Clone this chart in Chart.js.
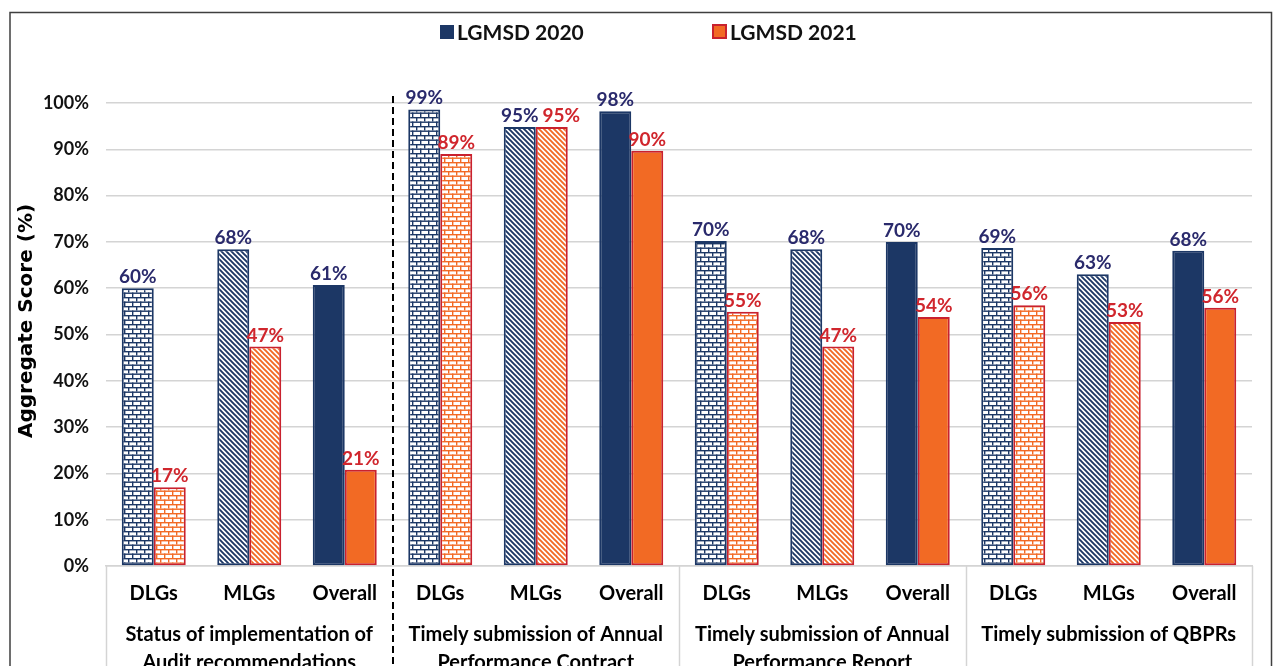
<!DOCTYPE html>
<html><head><meta charset="utf-8">
<script src="https://cdn.jsdelivr.net/npm/chart.js@4.4.1/dist/chart.umd.min.js"></script>
<style>
html,body{margin:0;padding:0;background:#fff;overflow:hidden;width:1273px;height:666px;}
#wrap{position:absolute;left:0;top:0;width:1273px;height:700px;}
</style></head><body>
<div id="wrap"><canvas id="c" width="1273" height="700"></canvas></div>
<script>
const subCategories = ['DLGs','MLGs','Overall','DLGs','MLGs','Overall','DLGs','MLGs','Overall','DLGs','MLGs','Overall'];
const groupLabels = [
  ['Status of implementation of','Audit recommendations'],
  ['Timely submission of Annual','Performance Contract'],
  ['Timely submission of Annual','Performance Report'],
  ['Timely submission of QBPRs']
];
const seriesNames = ['LGMSD 2020','LGMSD 2021'];
const series2020 = [60, 68.4, 60.7, 98.6, 94.8, 98.2, 70.2, 68.4, 70, 68.7, 63, 68.1];
const series2021 = [17, 47.4, 20.8, 89, 94.8, 89.7, 54.9, 47.4, 53.8, 56.3, 52.7, 55.8];
const yTickValues = [0,10,20,30,40,50,60,70,80,90,100];

const NAVY = '#1c3765', ORANGE = '#f26a24', RED = '#c9212e';
const LBL2020 = '#2a2a6c', LBL2021 = '#d0262d';

function brick(color){
  const c=document.createElement('canvas'); c.width=8; c.height=9;
  const g=c.getContext('2d');
  g.fillStyle='#fff'; g.fillRect(0,0,8,9);
  g.fillStyle=color;
  g.fillRect(0,0,8,1.4); g.fillRect(0,4.5,8,1.4);
  g.fillRect(0,0,1.4,4.5); g.fillRect(4,4.5,1.4,4.5);
  return g.createPattern(c,'repeat');
}
function diag(color){
  const s=5;
  const c=document.createElement('canvas'); c.width=s; c.height=s;
  const g=c.getContext('2d');
  g.fillStyle='#fff'; g.fillRect(0,0,s,s);
  g.strokeStyle=color; g.lineWidth=1.9;
  g.beginPath();
  g.moveTo(-1,-1); g.lineTo(s+1,s+1);
  g.moveTo(-1,s-1); g.lineTo(1,s+1);
  g.moveTo(s-1,-1); g.lineTo(s+1,1);
  g.stroke();
  return g.createPattern(c,'repeat');
}
const bg2020 = [], bg2021 = [];
const bN=brick(NAVY), dN=diag(NAVY), bO=brick(ORANGE), dO=diag(ORANGE);
subCategories.forEach(s=>{
  if(s==='DLGs'){bg2020.push(bN);bg2021.push(bO);}
  else if(s==='MLGs'){bg2020.push(dN);bg2021.push(dO);}
  else {bg2020.push(NAVY);bg2021.push(ORANGE);}
});

const deco = {
  id:'deco',
  afterDraw(chart){
    const ctx=chart.ctx, x=chart.scales.x, ca=chart.chartArea;
    ctx.save();
    // frame
    ctx.strokeStyle='#3f3f3f'; ctx.lineWidth=1.5;
    ctx.strokeRect(10,12.5,1261.5,800);
    // legend
    ctx.font='bold 21px Lato'; ctx.textBaseline='middle'; ctx.textAlign='left';
    ctx.fillStyle=NAVY; ctx.fillRect(440,25,14,14);
    ctx.fillStyle='#111'; ctx.fillText(seriesNames[0],457,33);
    ctx.fillStyle=ORANGE; ctx.fillRect(713,25,13,13);
    ctx.strokeStyle=RED; ctx.lineWidth=2; ctx.strokeRect(713,25,13,13);
    ctx.fillStyle='#111'; ctx.fillText(seriesNames[1],730,33);
    // data labels
    ctx.font='bold 19px Lato'; ctx.textAlign='center'; ctx.textBaseline='alphabetic';
    const m0=chart.getDatasetMeta(0), m1=chart.getDatasetMeta(1);
    const d0=chart.data.datasets[0].data, d1=chart.data.datasets[1].data;
    m0.data.forEach((el,i)=>{
      const a=m0.data[i], b=m1.data[i];
      const ta=Math.round(d0[i])+'%', tb=Math.round(d1[i])+'%';
      ctx.fillStyle=LBL2020; ctx.fillText(ta,a.x,a.y-5);
      let bx=b.x;
      if(Math.abs(a.y-b.y)<22){
        const need=(ctx.measureText(ta).width+ctx.measureText(tb).width)/2+4;
        if(bx-a.x<need) bx=a.x+need;
      }
      ctx.fillStyle=LBL2021; ctx.fillText(tb,bx,b.y-5);
    });
    // separators
    const bottom=chart.height;
    ctx.strokeStyle='#d4d4d4'; ctx.lineWidth=1.5;
    [ -0.5, 5.5, 8.5, 11.5].forEach(v=>{
      const px=Math.round(x.getPixelForValue(v))+0.5;
      ctx.beginPath(); ctx.moveTo(px,ca.bottom); ctx.lineTo(px,bottom); ctx.stroke();
    });
    // dashed
    const dx=Math.round(x.getPixelForValue(2.5));
    ctx.strokeStyle='#000'; ctx.lineWidth=2; ctx.setLineDash([7,4]);
    ctx.beginPath(); ctx.moveTo(dx,96); ctx.lineTo(dx,bottom); ctx.stroke();
    ctx.setLineDash([]);
    // group labels
    ctx.fillStyle='#000'; ctx.font='bold 20px Lato'; ctx.textAlign='center'; ctx.textBaseline='middle';
    groupLabels.forEach((lines,gi)=>{
      const cx=x.getPixelForValue(gi*3+1);
      lines.forEach((t,li)=>ctx.fillText(t,cx,635+li*28));
    });
    // y title
    ctx.save();
    ctx.translate(27,321); ctx.rotate(-Math.PI/2);
    ctx.font='bold 20px "DejaVu Sans"'; ctx.textAlign='center'; ctx.textBaseline='middle';
    ctx.fillStyle='#000'; ctx.fillText('Aggregate Score (%)',0,0);
    ctx.restore();
    ctx.restore();
  }
};

new Chart(document.getElementById('c'),{
  type:'bar',
  data:{
    labels:subCategories,
    datasets:[
      {label:seriesNames[0],data:series2020,backgroundColor:bg2020,borderColor:NAVY,borderWidth:2,borderSkipped:false},
      {label:seriesNames[1],data:series2021,backgroundColor:bg2021,borderColor:RED,borderWidth:2,borderSkipped:false}
    ]
  },
  options:{
    responsive:false, animation:false,
    categoryPercentage:0.67, barPercentage:1,
    layout:{padding:{left:10,right:21,top:103,bottom:0}},
    plugins:{legend:{display:false},tooltip:{enabled:false}},
    scales:{
      x:{
        grid:{display:false,drawTicks:false},
        border:{display:true,color:'#d4d4d4',width:1.5},
        ticks:{font:{family:'Lato',weight:'bold',size:20},color:'#000',padding:16,maxRotation:0,autoSkip:false},
        afterFit(s){s.height=700-566;}
      },
      y:{
        min:0,max:100,
        afterBuildTicks(s){s.ticks=yTickValues.map(v=>({value:v}));},
        ticks:{callback:v=>v+'%',font:{family:'Lato',weight:'bold',size:18},color:'#111',padding:17},
        grid:{color:'#d4d4d4',lineWidth:1.5,drawTicks:false},
        border:{display:false},
        afterFit(s){s.width=96;}
      }
    }
  },
  plugins:[deco]
});
</script>
</body></html>
